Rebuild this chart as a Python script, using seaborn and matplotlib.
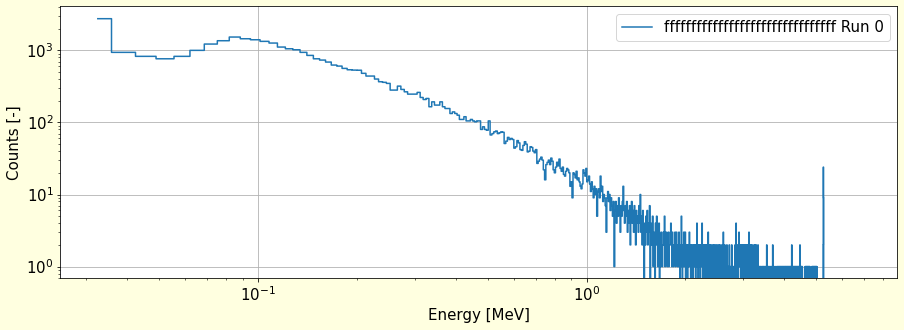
import numpy as np
import pandas as pd
import matplotlib
matplotlib.use("Agg")
import matplotlib.pyplot as plt
import seaborn as sns

# Energy calibration of the channels (MeV): centre of channel k = E0 + GAIN * k
E0 = 0.0326
GAIN = 0.00657

run_label = "ffffffffffffffffffffffffffffffff Run 0"

# Counts per channel
counts_low = [
    2750, 938, 826, 764, 826, 1000, 1223, 1360, 1530, 1449,
    1403, 1333, 1263, 1111, 1052, 1019, 938, 851, 764, 733,
    688, 625, 605, 562, 538, 532, 530, 480, 440, 440,
    400, 367, 360, 348, 281, 281, 319, 287, 266, 247,
    247, 247, 261, 222, 208, 215, 165, 193, 174, 174,
    193, 165, 156, 156, 133, 140, 133, 126, 110, 110,
    120, 105, 105, 110, 105, 102, 105, 105, 80, 87,
    80, 78, 105, 67, 70, 74, 76, 70, 72, 74,
    73, 51, 55, 62, 58, 60, 58, 44, 46, 56,
    52, 42, 41, 48, 54, 50, 39, 40, 46, 45,
    40, 38, 42, 27, 29, 31, 33, 30, 22, 16,
    26, 28, 30, 26, 32, 29, 22, 20, 24, 28,
    25, 31, 23, 21, 24, 19, 18, 21, 23, 22,
    20, 13, 15, 9, 20, 19, 17, 21, 16, 17,
    15, 13, 12, 14, 22, 20, 18, 23, 15, 16,
]
counts_mid = [
    18, 14, 11, 15, 12, 9, 13, 10, 12, 5,
    11, 12, 9, 18, 11, 13, 8, 10, 9, 7,
    3, 9, 11, 8, 10, 6, 9, 7, 5, 8,
    1, 6, 8, 4, 7, 5, 9, 6, 3, 7,
    5, 8, 13, 6, 4, 7, 5, 8, 3, 6,
    4, 7, 2, 5, 8, 4, 6, 3, 7, 5,
    2, 6, 4, 5, 3, 7, 4, 10, 3, 5,
    2, 6, 3, 0, 4, 2, 5, 3, 6, 2,
    4, 3, 7, 0, 4, 2, 3, 5, 1, 3,
    2, 0, 4, 2, 5, 3, 1, 2, 4, 0,
    2, 1, 3, 2, 1, 2, 3, 2, 5, 1,
    2, 3, 2, 1, 2, 3, 1, 2, 2, 3,
    4, 2, 1, 3, 2, 1, 2, 2, 3, 1,
    2, 3, 2, 1, 2, 1, 3, 2, 0, 2,
    1, 5, 2, 0, 1, 2, 3, 1, 2, 3,
    0, 2, 1, 2, 0, 1, 2, 1, 3, 2,
    1, 0, 2, 1, 1, 2, 0, 1, 2, 1,
    2, 1, 0, 2, 1, 4, 2, 1, 0, 2,
    1, 2, 1, 0, 2, 1, 2, 4, 1, 0,
    2, 1, 2, 1, 0, 2, 1, 1, 2, 0,
    1, 2, 3, 1, 0, 2, 1, 2, 1, 0,
    1, 2, 1, 0, 1, 2, 1, 0, 2, 1,
    1, 0, 2, 1, 1, 0, 2, 1, 0, 1,
    2, 1, 0, 2, 1, 1, 0, 1, 2, 1,
    0, 2, 3, 1, 0, 1, 2, 0, 1, 1,
    0, 1, 2, 0, 1, 0, 1, 1, 0, 2,
    1, 0, 1, 1, 0, 1, 2, 1, 0, 1,
    1,
]
counts_high = [
    0, 1, 1, 0, 1, 2, 1, 0, 4, 1,
    0, 1, 2, 1, 0, 1, 2, 3, 1, 2,
    1, 2, 0, 1, 2, 1, 2, 0, 1, 2,
    1, 0, 2, 1, 2, 1, 0, 2, 1, 1,
    2, 0, 1, 2, 1, 1, 2, 0, 1, 3,
    1, 0, 2, 1, 1, 0, 2, 1, 0, 1,
    2, 1, 0, 1, 1, 0, 2, 2, 1, 0,
    1, 2, 1, 2, 0, 1, 0, 1, 1, 0,
    2, 1, 0, 1, 0, 1, 1, 0, 1, 0,
    1, 1, 0, 0, 1, 0, 1, 1, 0, 1,
    0, 1, 0, 1, 1, 0, 0, 1, 0, 1,
    1, 0, 2, 1, 0, 1, 0, 1, 1, 0,
    1, 0, 1, 0, 0, 0, 1, 0, 0, 1,
    0, 0, 1, 0, 0, 2, 1, 0, 0, 0,
    1, 0, 0, 0, 1, 0, 0, 0, 1, 0,
    0, 0, 1, 0, 1, 1, 0, 1, 0, 1,
    1, 0, 1, 0, 1, 1, 0, 1, 0, 1,
    0, 1, 1, 0, 1, 0, 1, 1, 0, 1,
    1, 0, 1, 0, 1, 1, 0, 1, 0, 1,
    0, 1, 0, 1, 1, 0, 1, 0, 1, 1,
    0, 1, 0, 1, 0, 1, 1, 0, 1, 0,
    1, 0, 1, 1, 0, 2, 1, 0, 1, 0,
    1, 1, 0, 1, 0, 1, 0, 1, 1, 0,
    1, 0, 1, 0, 1, 1, 0, 1, 0, 1,
    0, 1, 1, 0, 1, 0, 1, 0, 1, 0,
    1, 0, 1, 2, 1, 0, 1, 1, 0, 1,
    0, 1, 0, 1, 1, 0, 0, 0, 0, 0,
    0, 0, 0, 0, 0, 0, 0, 0, 1, 0,
    1, 1, 0, 1, 0, 1, 0, 1, 1, 0,
    1, 0, 1, 0, 1, 1, 0, 1, 0, 1,
    0, 1, 1, 0, 0, 0, 0, 0, 0, 0,
    0, 0, 1, 0, 1, 1, 0, 1, 0, 1,
    1, 0, 1, 0, 1, 0, 1, 1, 0, 1,
    0, 1, 0, 1, 1, 0, 1, 0, 1, 0,
    0, 0, 0, 0, 0, 0, 0, 0, 0, 0,
    0, 0, 0, 0, 0, 0, 0, 0, 0, 0,
    0, 0, 0, 0, 0, 0, 0, 0, 0, 0,
    0, 0, 0, 2, 24, 9, 0, 0, 0, 0,
]

counts = counts_low + counts_mid + counts_high
channel = np.arange(len(counts))
energy = E0 + GAIN * channel

df = pd.DataFrame({"Energy": energy, "Counts": counts})

fig = plt.figure(figsize=(904 / 72, 330 / 72), dpi=72, facecolor="#ffffe0")
ax = fig.add_axes([0.0669, 0.1567, 0.9257, 0.8242])
ax.set_facecolor("white")

sns.lineplot(data=df, x="Energy", y="Counts", estimator=None, sort=True,
             drawstyle="steps-mid", color="#1f77b4", linewidth=1.5,
             label=run_label, ax=ax)

ax.set_xscale("log")
ax.set_yscale("log")
ax.set_xlim(0.0251, 8.82)
ax.set_ylim(0.688, 4085)
ax.grid(True, which="major", color="#b0b0b0", linewidth=0.8)
ax.set_axisbelow(True)
ax.set_xlabel("Energy [MeV]", fontsize=15)
ax.set_ylabel("Counts [-]", fontsize=15)
ax.tick_params(axis="both", which="major", labelsize=15)
ax.legend(loc="upper right", fontsize=15)

fig.savefig("out.png", dpi=72, facecolor=fig.get_facecolor())
